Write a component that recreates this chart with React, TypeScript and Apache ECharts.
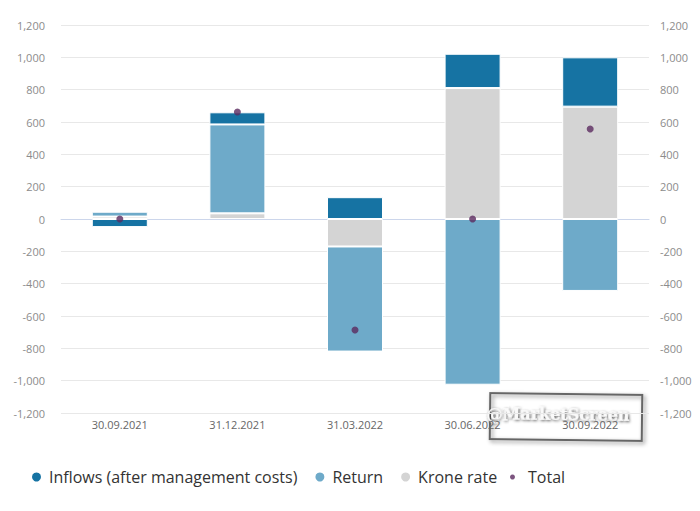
import React, { useEffect, useRef } from "react";
import * as echarts from "echarts";

const categories = ["30.09.2021", "31.12.2021", "31.03.2022", "30.06.2022", "30.09.2022"];
const inflows = [-50, 75, 135, 212, 305];
const returns = [30, 550, -650, -1025, -445];
const kroneRate = [15, 35, -170, 810, 695];
const total = [0, 662, -687, 0, 557];
const yTicks = { min: -1200, max: 1200, interval: 200 };

const FONT = "'Open Sans', 'Noto Sans', sans-serif";
const C_INFLOW = "#1673a3";
const C_RETURN = "#6eaac9";
const C_KRONE = "#d4d4d4";
const C_TOTAL = "#5b2a5f";

const fmt = (v: number) => v.toLocaleString("en-US");

export default function App() {
  const ref = useRef<HTMLDivElement>(null);
  useEffect(() => {
    if (!ref.current) return;
    const chart = echarts.init(ref.current, undefined, { renderer: "svg" });
    const axisLabel = { color: "#8c8c8c", fontSize: 11, fontFamily: FONT, formatter: fmt };
    chart.setOption({
      animation: false,
      backgroundColor: "#fff",
      grid: { left: 61, right: 51, top: 25, bottom: 98 },
      xAxis: {
        type: "category",
        data: categories,
        axisLine: { lineStyle: { color: "#ccd6eb" } },
        axisTick: { alignWithLabel: true, length: 8, lineStyle: { color: "#ccd6eb" } },
        axisLabel: { color: "#666", fontSize: 11, fontFamily: FONT, margin: 6 },
      },
      yAxis: [
        {
          type: "value",
          ...yTicks,
          axisLine: { show: false },
          axisTick: { show: false },
          splitLine: { lineStyle: { color: "#e8e8e8" } },
          axisLabel: { ...axisLabel, margin: 16 },
        },
        {
          type: "value",
          position: "right",
          ...yTicks,
          axisLine: { show: false },
          axisTick: { show: false },
          splitLine: { show: false },
          axisLabel: { ...axisLabel, margin: 11 },
        },
      ],
      legend: [
        {
          data: ["Inflows (after management costs)", "Return", "Krone rate"],
          left: 30,
          top: 469,
          padding: 0,
          icon: "circle",
          itemWidth: 11,
          itemHeight: 11,
          itemGap: 16,
          textStyle: { fontFamily: FONT, fontSize: 16, color: "#333", padding: [0, 0, 0, 2] },
        },
        {
          data: ["Total"],
          left: 510,
          top: 469,
          padding: 0,
          icon: "circle",
          itemWidth: 5,
          itemHeight: 5,
          textStyle: { fontFamily: FONT, fontSize: 16, color: "#333", padding: [0, 0, 0, 8] },
        },
      ],
      series: [
        {
          name: "Krone rate",
          type: "bar",
          stack: "s",
          data: kroneRate,
          barWidth: 56,
          itemStyle: { color: C_KRONE, borderColor: "#fff", borderWidth: 1 },
        },
        {
          name: "Return",
          type: "bar",
          stack: "s",
          data: returns,
          barWidth: 56,
          itemStyle: { color: C_RETURN, borderColor: "#fff", borderWidth: 1 },
        },
        {
          name: "Inflows (after management costs)",
          type: "bar",
          stack: "s",
          data: inflows,
          barWidth: 56,
          itemStyle: { color: C_INFLOW, borderColor: "#fff", borderWidth: 1 },
        },
        {
          name: "Total",
          type: "scatter",
          data: total,
          symbol: "circle",
          symbolSize: 7,
          itemStyle: { color: C_TOTAL },
          z: 5,
        },
      ],
      graphic: [
        {
          type: "group",
          x: 566,
          y: 417,
          rotation: -0.012,
          z: 100,
          children: [
            {
              type: "rect",
              shape: { x: -76, y: -23, width: 152, height: 46 },
              style: {
                fill: "rgba(255,255,255,0)",
                stroke: "#666",
                lineWidth: 2,
                shadowBlur: 4,
                shadowColor: "rgba(0,0,0,0.45)",
                shadowOffsetX: 2,
                shadowOffsetY: 2,
              },
            },
            {
              type: "text",
              x: -8,
              y: -2,
              style: {
                text: "@MarketScreen",
                font: "bold 16px 'DejaVu Serif', 'Liberation Serif', serif",
                fill: "#fafafa",
                align: "center",
                verticalAlign: "middle",
                textShadowColor: "rgba(0,0,0,0.75)",
                textShadowBlur: 3,
                textShadowOffsetX: 1,
                textShadowOffsetY: 1,
              },
            },
          ],
        },
      ],
    });
    return () => chart.dispose();
  }, []);
  return (
    <div
      ref={ref}
      style={{ position: "absolute", left: 0, top: 0, width: 700, height: 511 }}
    />
  );
}
